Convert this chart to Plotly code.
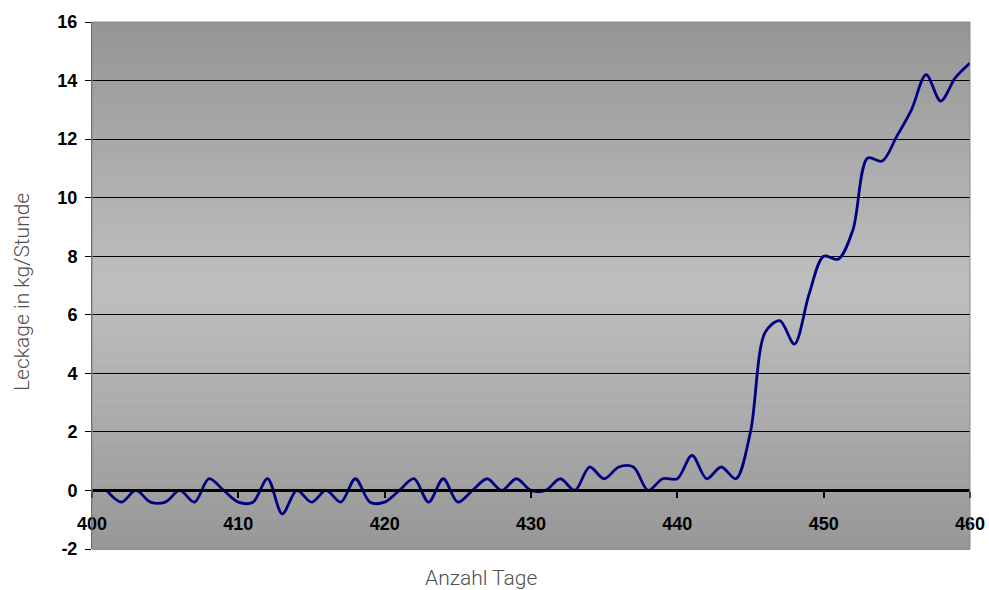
import plotly.graph_objects as go

days = list(range(401, 461))
leckage = [
    0, -0.4, 0, -0.4, -0.4, 0, -0.4, 0.4, 0, -0.4,
    -0.4, 0.4, -0.8, 0, -0.4, 0, -0.4, 0.4, -0.4, -0.4,
    0, 0.4, -0.4, 0.4, -0.4, 0, 0.4, 0, 0.4, 0,
    0, 0.4, 0, 0.8, 0.4, 0.8, 0.8, 0, 0.4, 0.4,
    1.2, 0.4, 0.8, 0.4, 2.0, 5.4, 5.8, 5.0, 6.7, 8.0,
    7.9, 8.9, 11.35, 11.25, 12.1, 13.0, 14.2, 13.3, 14.1, 14.6,
]
x_ticks = [400, 410, 420, 430, 440, 450, 460]
y_ticks = [-2, 0, 2, 4, 6, 8, 10, 12, 14, 16]
x_title = "Anzahl Tage"
y_title = "Leckage in kg/Stunde"

fig = go.Figure()
fig.add_trace(go.Scatter(
    x=days, y=leckage, mode="lines",
    line=dict(color="#000080", width=2.8, shape="spline", smoothing=0.9),
    hoverinfo="skip", showlegend=False,
))

# gradient background (top dark -> middle light -> bottom dark)
shapes = []
n = 80
top_c, mid_c, bot_c, peak = 149, 191, 151, 0.5
for i in range(n):
    t0 = i / n
    t1 = (i + 1) / n
    tm = (t0 + t1) / 2
    if tm < peak:
        v = top_c + (mid_c - top_c) * (tm / peak)
    else:
        v = mid_c + (bot_c - mid_c) * ((tm - peak) / (1 - peak))
    v = int(round(v))
    shapes.append(dict(
        type="rect", xref="paper", yref="paper",
        x0=0, x1=1, y0=1 - t1 - 0.002, y1=1 - t0,
        fillcolor=f"rgb({v},{v},{v})", line=dict(width=0), layer="below",
    ))
# plot border
shapes.append(dict(type="rect", xref="paper", yref="paper", x0=0, x1=1, y0=0, y1=1,
                   line=dict(color="#8a8a8a", width=1), fillcolor="rgba(0,0,0,0)", layer="above"))

tick_font = dict(family="Liberation Sans, Arial, sans-serif", size=18, color="black", weight="bold")
title_font = dict(family="Roboto, sans-serif", size=21, color="#505050", weight=300)

fig.update_layout(
    width=989, height=590,
    margin=dict(l=92, r=19, t=22, b=41),
    paper_bgcolor="white",
    plot_bgcolor="rgba(0,0,0,0)",
    shapes=shapes,
    xaxis=dict(
        range=[400, 460], tickvals=x_ticks, ticktext=[str(v) for v in x_ticks],
        anchor="free", position=2 / 18, automargin=False,
        showline=True, linecolor="black", linewidth=3,
        ticks="outside", ticklen=6, tickwidth=2, tickcolor="black",
        ticklabelstandoff=10,
        showgrid=False, zeroline=False, tickfont=tick_font,
    ),
    yaxis=dict(
        range=[-2, 16], tickvals=y_ticks, ticktext=[str(v) for v in y_ticks],
        automargin=False,
        showline=True, linecolor="#555555", linewidth=1,
        ticks="outside", ticklen=6, tickwidth=1, tickcolor="black",
        ticklabelstandoff=4,
        showgrid=True, gridcolor="black", gridwidth=1,
        zeroline=False, tickfont=tick_font,
    ),
    annotations=[
        dict(text=x_title, xref="paper", yref="paper", x=0.443, y=-0.055,
             showarrow=False, font=title_font, xanchor="center", yanchor="middle"),
        dict(text=y_title, xref="paper", yref="paper", x=-0.0797, y=0.4877,
             showarrow=False, font=title_font, textangle=-90, xanchor="center", yanchor="middle"),
    ],
)

# remove the default 8px page margin so the 989x590 figure fills the window exactly
fig.write_html(
    "out.html",
    config={"displayModeBar": False},
    post_script="document.body.style.margin='0';document.body.style.overflow='hidden';",
)
